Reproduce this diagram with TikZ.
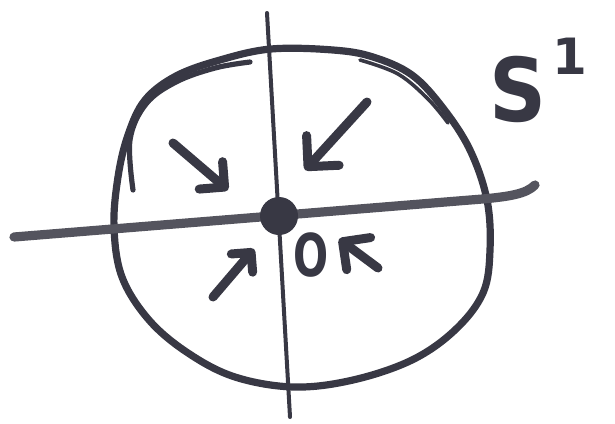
\documentclass[tikz,border=0pt]{standalone}
\usepackage{fontspec}
\usepackage{graphicx}
\setmainfont{DejaVu Sans}
\usetikzlibrary{arrows.meta}
\definecolor{ink}{RGB}{56,56,68}
\definecolor{inkgray}{RGB}{84,84,94}
\begin{document}
\begin{tikzpicture}[x=0.5pt,y=-0.5pt,
  marker/.style={draw=ink, line cap=round, line join=round},
  conv/.style 2 args={marker, line width=4.5pt,
    -{Straight Barb[length=#1pt, width=#2pt, round]}},
  lbl/.style={text=ink, font=\bfseries, inner sep=0pt}]
\useasboundingbox (0,0) rectangle (615,423);
% circle S^1 (hand drawn)
\draw[marker, line width=3.6pt] plot[smooth cycle, tension=0.6] coordinates {
  (271,49) (333,50) (373,57) (412,75) (443,108) (470,150) (487,200)
  (490,250) (483,293) (455,330) (412,360) (353,380) (294,387) (235,377)
  (188,353) (149,320) (122,277) (114,227) (118,177) (128,135) (145,100)
  (176,76) (220,60)};
\draw[marker, line width=2.6pt] plot[smooth, tension=0.6] coordinates {
  (133,190) (130,140) (146,104) (176,82) (215,68) (250,62)};
\draw[marker, line width=1.8pt] plot[smooth, tension=0.6] coordinates {
  (360,60) (398,74) (428,99) (448,123)};
% axes
\coordinate (xl) at (14,237);
\coordinate (xm) at (470,200);
\coordinate (xr) at (535,185);
\coordinate (yt) at (267,13);
\coordinate (yb) at (290,417);
\draw[marker, draw=inkgray, line width=4.6pt] (xl) -- (xm)
  .. controls (510,197) and (526,194) .. (xr);
\draw[marker, line width=2pt] (yt) -- (yb);
% origin
\node[circle, fill=ink, minimum size=19pt, inner sep=0pt] (origin) at (279,216) {};
% contracting arrows
\coordinate (s1) at (173,143); \coordinate (t1) at (228,190);
\coordinate (s2) at (367,102); \coordinate (t2) at (305,170);
\coordinate (s3) at (213,297); \coordinate (t3) at (254,249);
\coordinate (s4) at (378,268); \coordinate (t4) at (339,239);
\draw[conv={9}{18}] (s1) -- (t1);
\draw[conv={11}{22}] (s2) -- (t2);
\draw[conv={7}{14}] (s3) -- (t3);
\draw[conv={10}{20}] (s4) -- (t4);
% labels
\node[lbl] (O) at (311,255) {\scalebox{0.7}[1]{\fontsize{29.5}{32}\selectfont O}};
\node[lbl, anchor=base west] (S1) at (489,121)
  {\scalebox{0.9}[1]{\fontsize{44}{48}\selectfont S}\hspace{3pt}\raisebox{23.5pt}{\fontsize{25}{27}\selectfont 1}};
\end{tikzpicture}
\end{document}
